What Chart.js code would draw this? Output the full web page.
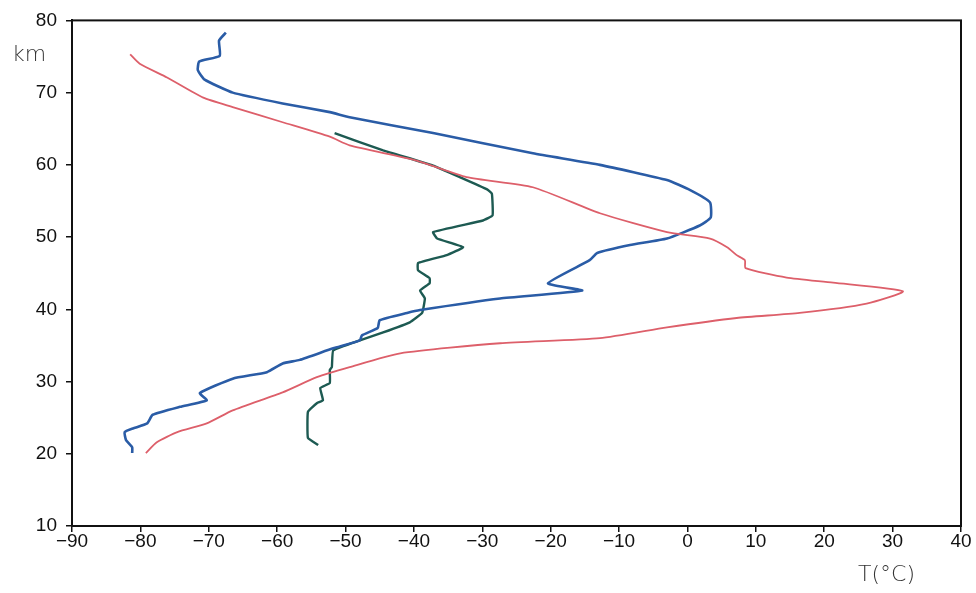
<!DOCTYPE html>
<html>
<head>
<meta charset="utf-8">
<script src="https://cdn.jsdelivr.net/npm/chart.js@4.4.0/dist/chart.umd.min.js"></script>
<style>
  html, body { margin: 0; padding: 0; background: #fff; overflow: hidden; }
  #wrap { width: 976px; height: 593px; position: relative; }
</style>
</head>
<body>
<div id="wrap"><canvas id="myChart" width="976" height="593"></canvas></div>
<script>
// temperature (°C) vs altitude (km) profiles
var blueTemp = [-67.5, -68.5, -68.4, -71.4, -71.6, -70.6, -66.5, -59.2, -52.3, -49.4, -37.2, -22.6, -12.8, -3.0, 0.4, 3.3, 3.4, 1.8, -3.0, -8.4, -13.2, -14.3, -20.4, -15.4, -27.4, -39.1, -41.0, -45.0, -45.3, -47.6, -47.9, -51.8, -56.7, -59.2, -61.5, -66.5, -71.3, -70.3, -74.2, -78.2, -79.0, -81.1, -82.3, -82.1, -81.2, -81.2];
var blueAlt  = [78.3, 77.2, 75.1, 74.3, 73.1, 71.8, 70.0, 68.5, 67.3, 66.6, 64.4, 61.6, 60.0, 57.9, 56.5, 54.8, 52.7, 51.6, 49.8, 48.9, 47.8, 46.8, 43.6, 42.6, 41.5, 39.9, 39.5, 38.5, 37.4, 36.4, 35.7, 34.6, 33.0, 32.5, 31.3, 30.4, 28.4, 27.4, 26.5, 25.4, 24.2, 23.5, 23.0, 21.9, 20.9, 20.1];

var redTemp = [-81.5, -80.1, -76.1, -70.8, -66.5, -59.2, -52.3, -49.4, -39.6, -32.3, -22.6, -12.8, -3.0, 3.3, 5.8, 7.2, 8.4, 8.5, 14.5, 21.3, 31.5, 26.2, 16.4, 7.2, -3.0, -12.8, -27.4, -42.0, -49.4, -54.2, -59.2, -66.5, -70.3, -74.6, -77.6, -79.2];
var redAlt  = [75.3, 74.0, 72.1, 69.3, 68.0, 65.9, 63.9, 62.7, 60.6, 58.3, 56.9, 53.3, 50.7, 49.8, 48.6, 47.5, 46.8, 45.7, 44.4, 43.7, 42.5, 40.8, 39.5, 38.8, 37.5, 36.0, 35.3, 33.9, 32.0, 30.6, 28.5, 26.0, 24.2, 23.0, 21.6, 20.1];

var greenTemp = [-51.6, -44.5, -37.2, -33.3, -29.3, -28.6, -28.5, -29.9, -37.2, -36.6, -32.8, -35.2, -39.4, -39.4, -37.7, -37.7, -39.1, -38.4, -38.8, -40.6, -44.5, -47.9, -51.8, -52.0, -52.3, -52.3, -53.7, -53.3, -54.2, -55.5, -55.5, -54.0];
var greenAlt  = [64.4, 62.0, 59.9, 58.3, 56.6, 56.0, 53.0, 52.3, 50.7, 49.8, 48.6, 47.5, 46.4, 45.4, 44.3, 43.6, 42.6, 41.5, 39.5, 38.2, 36.8, 35.7, 34.3, 32.0, 31.6, 29.8, 29.1, 27.4, 27.0, 25.8, 22.2, 21.2];

var xTicks = [-90, -80, -70, -60, -50, -40, -30, -20, -10, 0, 10, 20, 30, 40];
var yTicks = [10, 20, 30, 40, 50, 60, 70, 80];

function toPoints(xs, ys) {
    return xs.map(function(x, i) { return {x: x, y: ys[i]}; });
}

var framePlugin = {
    id: 'frame',
    afterDraw: function(chart) {
        var ctx = chart.ctx, a = chart.chartArea;
        ctx.save();
        ctx.strokeStyle = '#111';
        ctx.lineWidth = 2;
        ctx.strokeRect(a.left, a.top, a.right - a.left, a.bottom - a.top);
        ctx.fillStyle = '#333';
        ctx.font = '300 22px "DejaVu Sans", sans-serif';
        ctx.textBaseline = 'middle';
        ctx.textAlign = 'left';
        ctx.fillText('km', 12, 55);
        ctx.fillText('T(°C)', 858, 575);
        ctx.restore();
    }
};

var ctx = document.getElementById('myChart');
var chart = new Chart(ctx, {
    type: 'scatter',
    data: {
        datasets: [
            {
                data: toPoints(redTemp, redAlt),
                showLine: true,
                borderColor: '#dd5f6a',
                borderWidth: 1.8,
                pointRadius: 0,
                tension: 0.2
            },
            {
                data: toPoints(blueTemp, blueAlt),
                showLine: true,
                borderColor: '#2a5ca6',
                borderWidth: 2.6,
                pointRadius: 0,
                tension: 0.15
            },
            {
                data: toPoints(greenTemp, greenAlt),
                showLine: true,
                borderColor: '#1d5a52',
                borderWidth: 2.4,
                pointRadius: 0,
                tension: 0.1
            }
        ]
    },
    options: {
        responsive: false,
        animation: false,
        devicePixelRatio: 1,
        layout: { padding: { top: 20, right: 15, left: 0, bottom: 0 } },
        plugins: { legend: { display: false }, tooltip: { enabled: false } },
        scales: {
            x: {
                type: 'linear',
                min: -90,
                max: 40,
                afterBuildTicks: function(axis) {
                    axis.ticks = xTicks.map(function(v) { return {value: v}; });
                },
                afterFit: function(axis) { axis.height = 67; },
                grid: { drawOnChartArea: false, drawTicks: true, tickLength: 6, color: '#111', lineWidth: 1.5 },
                border: { display: true, color: '#111', width: 2 },
                ticks: {
                    color: '#111',
                    padding: -2,
                    maxRotation: 0,
                    autoSkip: false,
                    font: { family: '"Liberation Sans", Arial, sans-serif', size: 19 },
                    callback: function(v) { return String(v).replace('-', '\u2212'); }
                }
            },
            y: {
                type: 'linear',
                min: 10,
                max: 80,
                afterBuildTicks: function(axis) {
                    axis.ticks = yTicks.map(function(v) { return {value: v}; });
                },
                afterFit: function(axis) { axis.width = 72; },
                grid: { drawOnChartArea: false, drawTicks: true, tickLength: 6, color: '#111', lineWidth: 1.5 },
                border: { display: true, color: '#111', width: 2 },
                ticks: {
                    color: '#111',
                    padding: 9,
                    autoSkip: false,
                    font: { family: '"Liberation Sans", Arial, sans-serif', size: 19 }
                }
            }
        }
    },
    plugins: [framePlugin]
});
</script>
</body>
</html>
